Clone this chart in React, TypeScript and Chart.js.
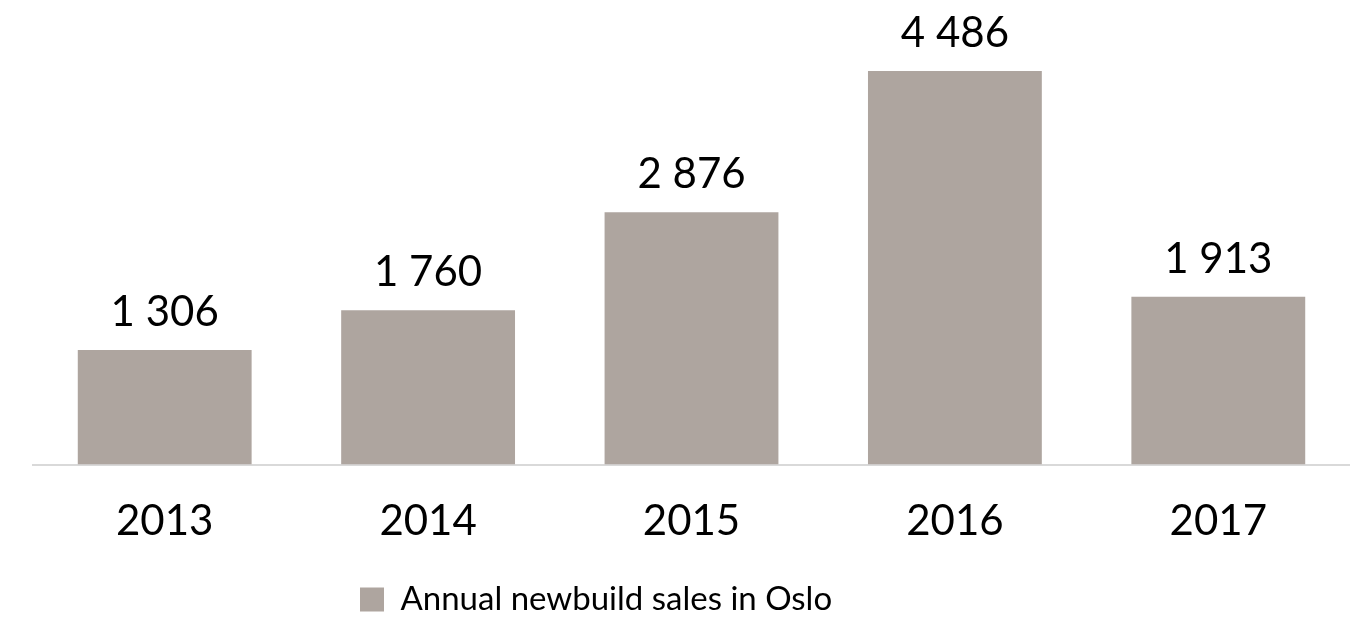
import React, { useEffect, useRef } from "react";
import { Chart, registerables } from "chart.js";

Chart.register(...registerables);

const categories = ["2013", "2014", "2015", "2016", "2017"];
const salesValues = [1306, 1760, 2876, 4486, 1913];
const seriesLabel = "Annual newbuild sales in Oslo";
const yMax = 5000;

const FONT = "Lato, 'Open Sans', sans-serif";
const BAR_COLOR = "#AEA59F";

const formatValue = (v: number) =>
  String(v).replace(/\B(?=(\d{3})+(?!\d))/g, " ");

const valueLabelPlugin = {
  id: "valueLabels",
  afterDatasetsDraw(chart: any) {
    const ctx = chart.ctx;
    const meta = chart.getDatasetMeta(0);
    const data = chart.data.datasets[0].data as number[];
    ctx.save();
    ctx.font = `42px ${FONT}`;
    ctx.fillStyle = "#000000";
    ctx.textAlign = "center";
    ctx.textBaseline = "alphabetic";
    meta.data.forEach((bar: any, i: number) => {
      ctx.fillText(formatValue(data[i]), bar.x, bar.y - 24);
    });
    ctx.restore();
  },
};

// place the legend slightly left of centre, as in the reference
const legendShiftPlugin = {
  id: "legendShift",
  afterLayout(chart: any) {
    const lg = chart.legend;
    if (!lg) return;
    lg.left = 356;
  },
};

export default function App() {
  const canvasRef = useRef<HTMLCanvasElement | null>(null);

  useEffect(() => {
    if (!canvasRef.current) return;
    const chart = new Chart(canvasRef.current, {
      type: "bar",
      data: {
        labels: categories,
        datasets: [
          {
            label: seriesLabel,
            data: salesValues,
            backgroundColor: BAR_COLOR,
            borderWidth: 0,
            categoryPercentage: 0.66,
            barPercentage: 1,
          },
        ],
      },
      options: {
        animation: false,
        responsive: true,
        maintainAspectRatio: false,
        layout: { padding: { top: 26, left: 33, right: 0, bottom: -7 } },
        plugins: {
          tooltip: { enabled: false },
          legend: {
            position: "bottom",
            align: "start",
            labels: {
              boxWidth: 24,
              boxHeight: 24,
              color: "#000000",
              font: { family: FONT, size: 33 },
              padding: 4,
            },
          },
        },
        scales: {
          x: {
            grid: { display: false, drawTicks: false },
            border: { display: true, color: "#D9D9D9", width: 2 },
            ticks: {
              color: "#000000",
              font: { family: FONT, size: 42 },
              padding: 32,
            },
          },
          y: {
            display: false,
            min: 0,
            max: yMax,
          },
        },
      },
      plugins: [valueLabelPlugin, legendShiftPlugin],
    });
    return () => chart.destroy();
  }, []);

  return (
    <div
      style={{
        position: "fixed",
        left: 0,
        top: 0,
        width: 1350,
        height: 619,
        background: "#ffffff",
      }}
    >
      <canvas ref={canvasRef} />
    </div>
  );
}
